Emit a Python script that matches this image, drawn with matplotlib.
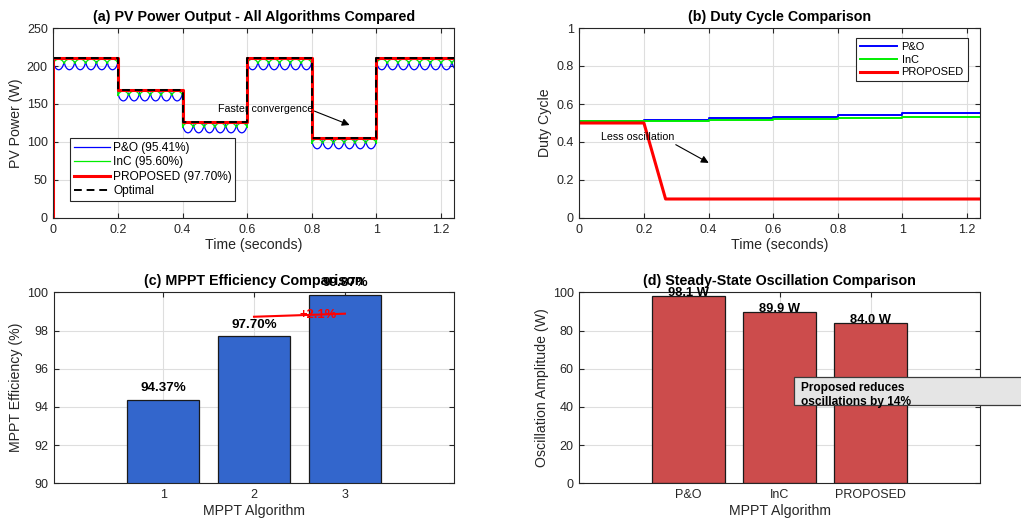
import numpy as np
import matplotlib
matplotlib.use("Agg")
import matplotlib.pyplot as plt
from matplotlib.patches import Rectangle

# ==========================================
# DATA
# ==========================================
seg_start = [0.0, 0.2, 0.4, 0.6, 0.8, 1.0]
seg_end = [0.2, 0.4, 0.6, 0.8, 1.0, 1.24]
p_optimal = [210, 168, 126, 210, 105, 210]
po_top = [206, 165, 123, 206, 102, 206]
po_low = [195, 154, 112, 195, 91, 195]
inc_top = [209, 167, 125, 209, 104, 209]
inc_low = [203, 161, 119, 203, 98, 203]
ripple_period = 0.2 / 6
# one ripple period, 0 = cusp, 1 = middle of the swing
ripple_x = [0.0, 0.08, 0.18, 0.3, 0.42, 0.5, 0.58, 0.7, 0.82, 0.92, 1.0]
ripple_y = [0.0, 0.45, 0.72, 0.9, 0.98, 1.0, 0.98, 0.9, 0.72, 0.45, 0.0]

duty_t = [0.0, 0.2, 0.4, 0.6, 0.8, 1.0, 1.24]
duty_po = [0.511, 0.517, 0.525, 0.533, 0.542, 0.551, 0.551]
duty_inc = [0.508, 0.510, 0.515, 0.520, 0.525, 0.531, 0.531]
duty_prop_t = [0.0, 0.2, 0.267, 1.24]
duty_prop = [0.5, 0.5, 0.1, 0.1]

eff_x = [1, 2, 3]
eff_vals = [94.37, 97.70, 99.87]
impr_x = [2, 3]
impr_y = [98.72, 98.88]

osc_names = ["P&O", "InC", "PROPOSED"]
osc_vals = [98.1, 89.9, 84.0]

# ==========================================
# BUILD WAVEFORMS
# ==========================================
t_all, po_all, inc_all = [], [], []
for k in range(len(seg_start)):
    t = np.linspace(seg_start[k], seg_end[k], 400)
    frac = ((t - seg_start[k]) / ripple_period) % 1.0
    shp = np.interp(frac, ripple_x, ripple_y)
    t_all.append(t)
    po_all.append(po_top[k] - (po_top[k] - po_low[k]) * shp)
    inc_all.append(inc_low[k] + (inc_top[k] - inc_low[k]) * shp)
t_all = np.concatenate(t_all)
po_all = np.concatenate(po_all)
inc_all = np.concatenate(inc_all)

opt_t = seg_start + [seg_end[-1]]
opt_p = p_optimal + [p_optimal[-1]]
prop_t = [0.0] + opt_t
prop_p = [0] + opt_p

# ==========================================
# STYLE
# ==========================================
plt.rcParams['font.family'] = ['Liberation Sans', 'DejaVu Sans']
plt.rcParams['axes.edgecolor'] = '#262626'
plt.rcParams['axes.linewidth'] = 0.8
plt.rcParams['xtick.color'] = '#262626'
plt.rcParams['ytick.color'] = '#262626'
plt.rcParams['xtick.direction'] = 'in'
plt.rcParams['ytick.direction'] = 'in'
plt.rcParams['xtick.top'] = True
plt.rcParams['ytick.right'] = True
plt.rcParams['xtick.labelsize'] = 9
plt.rcParams['ytick.labelsize'] = 9
plt.rcParams['axes.labelsize'] = 10.2
plt.rcParams['axes.labelcolor'] = '#262626'
plt.rcParams['grid.color'] = '#dedede'
plt.rcParams['grid.linewidth'] = 0.8

W, H = 1021, 518
fig = plt.figure(figsize=(W / 100, H / 100), dpi=100)


def box(l, t, r, b):
    return [l / W, (H - b) / H, (r - l) / W, (b - t) / H]


ax1 = fig.add_axes(box(53.3, 28, 454, 218))
ax2 = fig.add_axes(box(579.3, 28, 980, 218))
ax3 = fig.add_axes(box(54, 292.3, 454, 483.3))
ax4 = fig.add_axes(box(579.3, 292.3, 980, 483.3))

for ax in (ax1, ax2, ax3, ax4):
    ax.grid(True)
    ax.set_axisbelow(True)
    ax.tick_params(length=3.5, width=0.8, pad=4)

title_kw = dict(fontsize=10.3, fontweight='bold', pad=5)

# (a) PV power
ax1.plot(t_all, po_all, color='#0000ff', lw=0.9, label='P&O (95.41%)')
ax1.plot(t_all, inc_all, color='#00ee00', lw=0.9, label='InC (95.60%)')
ax1.plot(prop_t, prop_p, color='#ff0000', lw=2.2, drawstyle='steps-post', label='PROPOSED (97.70%)')
ax1.plot(opt_t, opt_p, color='k', lw=1.4, ls=(0, (4, 2.5)), drawstyle='steps-post', label='Optimal')
ax1.set_xlim(0, 1.24)
ax1.set_ylim(0, 250)
ax1.set_xticks([0, 0.2, 0.4, 0.6, 0.8, 1.0, 1.2])
ax1.set_xticklabels(['0', '0.2', '0.4', '0.6', '0.8', '1', '1.2'])
ax1.set_yticks([0, 50, 100, 150, 200, 250])
ax1.set_xlabel('Time (seconds)', labelpad=2)
ax1.set_ylabel('PV Power (W)', labelpad=3)
ax1.set_title('(a) PV Power Output - All Algorithms Compared', **title_kw)
leg = ax1.legend(loc='lower left', bbox_to_anchor=(0.042, 0.091), borderaxespad=0,
                 fontsize=8.6, fancybox=False, framealpha=1, edgecolor='#262626',
                 handlelength=3.0, labelspacing=0.2, borderpad=0.3, handletextpad=0.3)
leg.get_frame().set_linewidth(0.8)
ax1.annotate('', xy=(0.925, 121), xytext=(0.80, 142),
             arrowprops=dict(arrowstyle='-|>', color='k', lw=0.8, mutation_scale=11))
ax1.text(0.805, 143.4, 'Faster convergence', ha='right', va='center', fontsize=7.7)

# (b) duty cycle
ax2.plot(duty_t, duty_po, color='#0000ff', lw=1.4, drawstyle='steps-post', label='P&O')
ax2.plot(duty_t, duty_inc, color='#00ee00', lw=1.4, drawstyle='steps-post', label='InC')
ax2.plot(duty_prop_t, duty_prop, color='#ff0000', lw=2.2, label='PROPOSED')
ax2.set_xlim(0, 1.24)
ax2.set_ylim(0, 1)
ax2.set_xticks([0, 0.2, 0.4, 0.6, 0.8, 1.0, 1.2])
ax2.set_xticklabels(['0', '0.2', '0.4', '0.6', '0.8', '1', '1.2'])
ax2.set_yticks([0, 0.2, 0.4, 0.6, 0.8, 1.0])
ax2.set_yticklabels(['0', '0.2', '0.4', '0.6', '0.8', '1'])
ax2.set_xlabel('Time (seconds)', labelpad=2)
ax2.set_ylabel('Duty Cycle', labelpad=3)
ax2.set_title('(b) Duty Cycle Comparison', **title_kw)
leg2 = ax2.legend(loc='upper right', bbox_to_anchor=(0.969, 0.947), borderaxespad=0,
                  fontsize=7.9, fancybox=False, framealpha=1, edgecolor='#262626',
                  handlelength=3.4, labelspacing=0.25, borderpad=0.35, handletextpad=0.4)
leg2.get_frame().set_linewidth(0.8)
ax2.annotate('', xy=(0.408, 0.283), xytext=(0.291, 0.393),
             arrowprops=dict(arrowstyle='-|>', color='k', lw=0.8, mutation_scale=11))
ax2.text(0.293, 0.428, 'Less oscillation', ha='right', va='center', fontsize=7.7)

# (c) efficiency bars
ax3.bar(eff_x, eff_vals, width=0.8, color='#3366cc', edgecolor='#1a1a1a', lw=0.9)
for x, v in zip(eff_x, eff_vals):
    ax3.text(x, v + 0.6, f'{v:.2f}%', ha='center', va='center', fontsize=9.6, fontweight='bold')
ax3.plot(impr_x, impr_y, color='#ff0000', lw=1.5)
ax3.text(2.71, 98.8, '+2.1%', color='#ff0000', ha='center', va='center', fontsize=9.4, fontweight='bold')
ax3.set_xlim(-0.2, 4.2)
ax3.set_ylim(90, 100)
ax3.set_xticks(eff_x)
ax3.set_yticks([90, 92, 94, 96, 98, 100])
ax3.set_xlabel('MPPT Algorithm', labelpad=2)
ax3.set_ylabel('MPPT Efficiency (%)', labelpad=3)
ax3.set_title('(c) MPPT Efficiency Comparison', **title_kw)

# (d) oscillation bars
osc_x = np.arange(1, len(osc_vals) + 1)
ax4.bar(osc_x, osc_vals, width=0.8, color='#cc4c4c', edgecolor='#1a1a1a', lw=0.9)
for x, v in zip(osc_x, osc_vals):
    ax4.text(x, v + 1.4, f'{v:.1f} W', ha='center', va='center', fontsize=9.3, fontweight='bold')
ax4.set_xlim(-0.2, 4.2)
ax4.set_ylim(0, 100)
ax4.set_xticks(osc_x)
ax4.set_xticklabels(osc_names)
ax4.set_yticks([0, 20, 40, 60, 80, 100])
ax4.set_xlabel('MPPT Algorithm', labelpad=2)
ax4.set_ylabel('Oscillation Amplitude (W)', labelpad=3)
ax4.set_title('(d) Steady-State Oscillation Comparison', **title_kw)

# annotation box that runs off the right edge
fig.patches.append(Rectangle(((794.3) / W, (H - 405) / H), 0.3, 28.3 / H,
                             transform=fig.transFigure, facecolor='#e5e5e5',
                             edgecolor='#3a3a3a', lw=0.9, zorder=5))
fig.text(801 / W, (H - 382.5) / H, 'Proposed reduces\noscillations by 14%', ha='left', va='top',
         fontsize=8.6, fontweight='bold', linespacing=1.15, zorder=6)

fig.savefig('out.png', dpi=100)
